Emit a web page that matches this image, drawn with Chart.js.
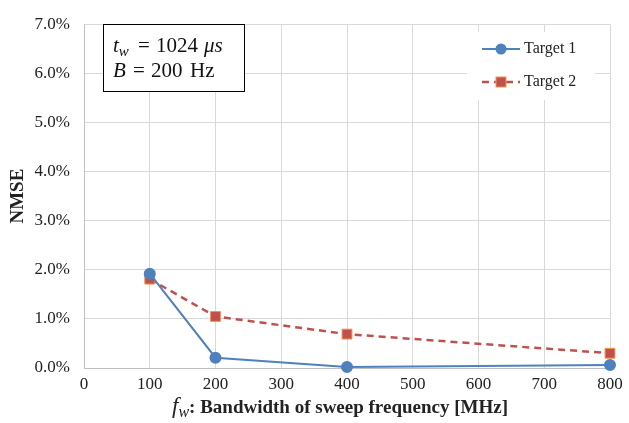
<!DOCTYPE html>
<html>
<head>
<meta charset="utf-8">
<script src="https://cdn.jsdelivr.net/npm/chart.js@4/dist/chart.umd.min.js"></script>
<style>
  html, body { margin: 0; padding: 0; background: #fff; }
  canvas { display: block; }
</style>
</head>
<body>
<canvas id="chart" width="629" height="423"></canvas>
<script>
// sweep bandwidth [MHz] and NMSE values [%]
const bandwidths = [100, 200, 400, 800];
const target1Nmse = [1.92, 0.21, 0.02, 0.06];
const target2Nmse = [1.81, 1.05, 0.69, 0.30];
const seriesNames = ["Target 1", "Target 2"];

const SERIF = "'Liberation Serif', 'Times New Roman', serif";

function toPoints(xs, ys) {
  return xs.map((x, i) => ({ x: x, y: ys[i] }));
}

// small helper: draw a run of [text, font, dy, x?] pieces left to right
function drawRuns(ctx, runs, x, y) {
  runs.forEach((r) => {
    ctx.font = r[1];
    if (r[3] !== undefined) x = r[3];
    ctx.fillText(r[0], x, y + (r[2] || 0));
    x += ctx.measureText(r[0]).width;
  });
  return x;
}

// draws the info box, the legend and the x axis title
const overlayPlugin = {
  id: "overlay",
  afterDraw(chart) {
    const ctx = chart.ctx;
    ctx.save();

    // parameter box
    ctx.fillStyle = "#fff";
    ctx.fillRect(103, 24, 141, 67);
    ctx.strokeStyle = "#000";
    ctx.lineWidth = 1;
    ctx.strokeRect(103.5, 24.5, 141, 67);
    ctx.fillStyle = "#111";
    ctx.textBaseline = "alphabetic";
    const it = "italic 21px " + SERIF;
    const up = "21px " + SERIF;
    drawRuns(ctx, [
      ["t", it, 0, 113],
      ["w", "italic 15px " + SERIF, 4],
      ["=", up, 0, 138],
      ["1024", up, 0, 156],
      ["\u03bcs", it, 0, 204]
    ], 113, 52);
    drawRuns(ctx, [
      ["B", it, 0, 113],
      ["=", up, 0, 133],
      ["200", up, 0, 151],
      ["Hz", up, 0, 190]
    ], 113, 77);

    // legend
    ctx.fillStyle = "#fff";
    ctx.fillRect(467, 32, 128, 68);
    const rows = [49, 82];
    chart.data.datasets.forEach((ds, i) => {
      const y = rows[i];
      ctx.strokeStyle = ds.borderColor;
      ctx.lineWidth = ds.borderWidth;
      ctx.setLineDash(ds.borderDash || []);
      ctx.beginPath();
      ctx.moveTo(482, y);
      ctx.lineTo(520, y);
      ctx.stroke();
      ctx.setLineDash([]);
      ctx.fillStyle = ds.pointBackgroundColor;
      ctx.strokeStyle = ds.pointBorderColor;
      ctx.lineWidth = 1;
      if (ds.pointStyle === "rect") {
        ctx.fillRect(496, y - 5, 10, 10);
        ctx.strokeRect(496, y - 5, 10, 10);
      } else {
        ctx.beginPath();
        ctx.arc(501, y, 5.5, 0, Math.PI * 2);
        ctx.fill();
      }
      ctx.fillStyle = "#222";
      ctx.font = "16px " + SERIF;
      ctx.textBaseline = "middle";
      ctx.fillText(ds.label, 524, y);
    });

    // x axis title: f_w: Bandwidth ...
    ctx.textBaseline = "alphabetic";
    ctx.fillStyle = "#222";
    drawRuns(ctx, [
      ["f", "italic 23px " + SERIF, 0],
      ["w", "italic 16px " + SERIF, 4],
      [": Bandwidth of sweep frequency [MHz]", "bold 19px " + SERIF, 0]
    ], 172, 413);

    ctx.restore();
  }
};

new Chart(document.getElementById("chart"), {
  type: "line",
  data: {
    datasets: [
      {
        label: seriesNames[0],
        data: toPoints(bandwidths, target1Nmse),
        borderColor: "#4F81BD",
        backgroundColor: "#4F81BD",
        borderWidth: 2,
        pointStyle: "circle",
        pointRadius: 5,
        pointBackgroundColor: "#4F81BD",
        pointBorderColor: "#4F81BD",
        tension: 0,
        clip: false
      },
      {
        label: seriesNames[1],
        data: toPoints(bandwidths, target2Nmse),
        borderColor: "#C0504D",
        backgroundColor: "#C0504D",
        borderWidth: 2.5,
        borderDash: [7, 5],
        pointStyle: "rect",
        pointRadius: 7,
        pointBorderWidth: 1,
        pointBackgroundColor: "#C0504D",
        pointBorderColor: "#F79646",
        tension: 0,
        clip: false
      }
    ]
  },
  options: {
    responsive: false,
    animation: false,
    layout: { padding: { top: 18, right: 19, left: 0, bottom: 0 } },
    plugins: {
      legend: { display: false },
      tooltip: { enabled: false }
    },
    scales: {
      x: {
        type: "linear",
        min: 0,
        max: 800,
        ticks: {
          stepSize: 100,
          padding: 6,
          color: "#222",
          font: { family: SERIF, size: 17 }
        },
        grid: { color: "#d9d9d9", drawTicks: false },
        border: { color: "#bfbfbf" },
        afterFit(s) { s.height = 55; }
      },
      y: {
        min: 0,
        max: 7,
        ticks: {
          stepSize: 1,
          padding: 14,
          color: "#222",
          font: { family: SERIF, size: 17 },
          callback: (v) => v.toFixed(1) + "%"
        },
        grid: { color: "#d9d9d9", drawTicks: false },
        border: { color: "#bfbfbf" },
        title: {
          display: true,
          text: "NMSE",
          color: "#222",
          font: { family: SERIF, size: 19, weight: "bold" },
          padding: { top: 7, bottom: 0 }
        },
        afterFit(s) { s.width = 84; }
      }
    }
  },
  plugins: [overlayPlugin]
});
</script>
</body>
</html>
